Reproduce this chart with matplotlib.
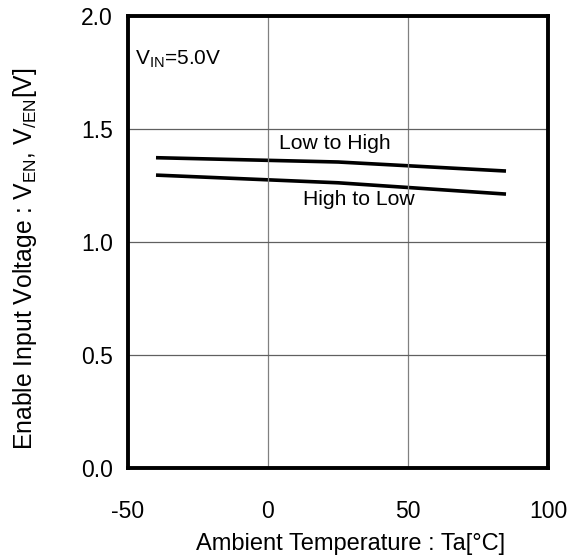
import matplotlib
matplotlib.use("Agg")
import matplotlib.pyplot as plt

plt.rcParams['font.family'] = ['Liberation Sans', 'DejaVu Sans']
plt.rcParams['mathtext.fontset'] = 'custom'
plt.rcParams['mathtext.rm'] = 'Liberation Sans'
plt.rcParams['mathtext.it'] = 'Liberation Sans'

# temperature points [deg C]
temp = [-40, 25, 85]
# enable threshold [V]
low_to_high = [1.373, 1.354, 1.314]
high_to_low = [1.296, 1.262, 1.212]

x_ticks = [-50, 0, 50, 100]
y_ticks = [0.0, 0.5, 1.0, 1.5, 2.0]

fig = plt.figure(figsize=(5.79, 5.60), dpi=100)
ax = fig.add_axes([128/579, 92/560, 420/579, 452/560])

ax.plot(temp, low_to_high, color='black', lw=2.6, solid_capstyle='butt')
ax.plot(temp, high_to_low, color='black', lw=2.6, solid_capstyle='butt')

ax.set_xlim(-50, 100)
ax.set_ylim(0, 2.0)
ax.set_xticks(x_ticks)
ax.set_yticks(y_ticks)
ax.set_xticklabels([str(t) for t in x_ticks])
ax.set_yticklabels(['%.1f' % v for v in y_ticks])
ax.tick_params(axis='both', length=0, labelsize=16.5)
ax.tick_params(axis='x', pad=23)
ax.tick_params(axis='y', pad=11)

for v in [0, 50]:
    ax.axvline(v, color='#808080', lw=0.9)
for v in [0.5, 1.0, 1.5]:
    ax.axhline(v, color='#606060', lw=0.9)

for s in ax.spines.values():
    s.set_linewidth(2.8)

ax.text(-47.5, 1.81, r'V$_{\mathrm{IN}}$=5.0V', fontsize=15, va='center', ha='left')
ax.text(24, 1.438, 'Low to High', fontsize=15.2, va='center', ha='center')
ax.text(32.5, 1.186, 'High to Low', fontsize=15.2, va='center', ha='center')

ax.set_xlabel('Ambient Temperature : Ta[°C]', fontsize=17)
ax.xaxis.set_label_coords(0.531, -0.144)
ax.set_ylabel(r'Enable Input Voltage : V$_{\mathrm{EN}}$, V$_{\mathrm{/EN}}$[V]', fontsize=17.8)
ax.yaxis.set_label_coords(-0.213, 0.462)

fig.savefig('out.png', dpi=100)
